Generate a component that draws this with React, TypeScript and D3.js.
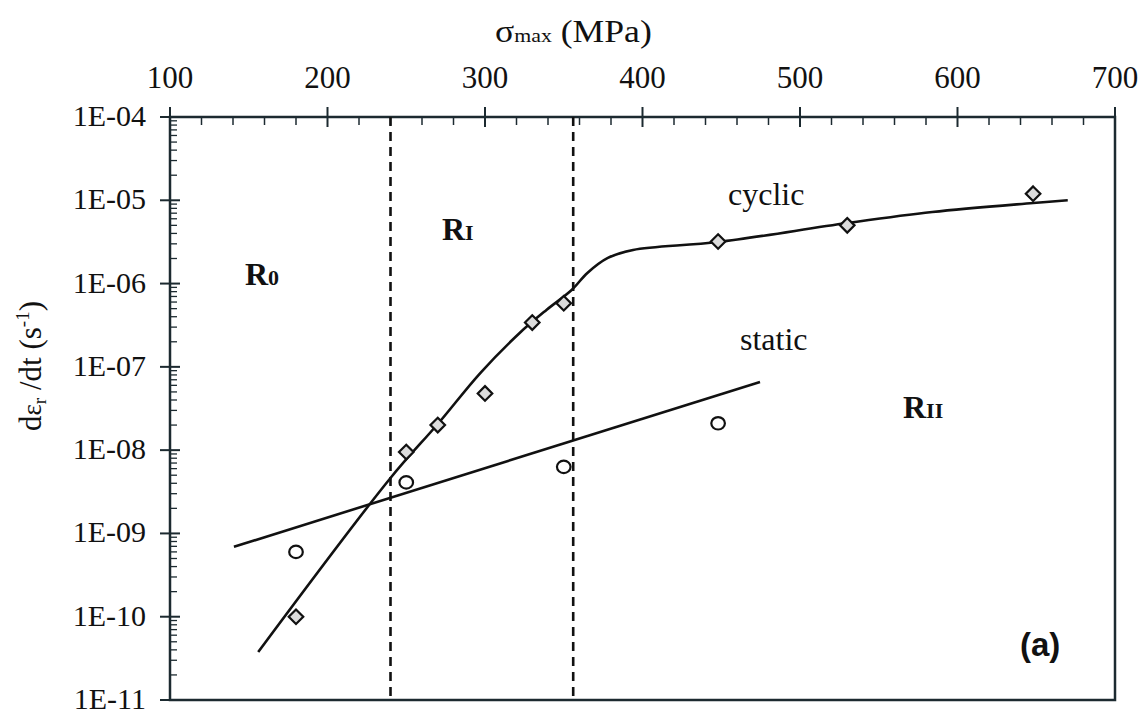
import React from "react";
import * as d3 from "d3";

// ---- data ----
const xMajorTicks = [100, 200, 300, 400, 500, 600, 700];
const yTickExponents = [-4, -5, -6, -7, -8, -9, -10, -11];
const yTickLabels = ["1E-04", "1E-05", "1E-06", "1E-07", "1E-08", "1E-09", "1E-10", "1E-11"];

const cyclicStress = [180, 250, 270, 300, 330, 350, 448, 530, 648];
const cyclicRate = [1.0e-10, 9.5e-9, 2.0e-8, 4.8e-8, 3.4e-7, 5.8e-7, 3.2e-6, 5.0e-6, 1.2e-5];

const staticStress = [180, 250, 350, 448];
const staticRate = [6.0e-10, 4.1e-9, 6.3e-9, 2.1e-8];

const cyclicFitStress = [156, 240, 270, 297, 322, 339, 355, 365, 378, 394, 448, 530, 584, 648, 670];
const cyclicFitRate = [3.77e-11, 4.63e-9, 2.06e-8, 8.43e-8, 2.55e-7, 4.82e-7, 8.37e-7, 1.34e-6, 2.03e-6, 2.53e-6, 3.15e-6, 5.33e-6, 7.23e-6, 9.27e-6, 1.0e-5];

const staticFitStress = [140.6, 474.6];
const staticFitRate = [6.9e-10, 6.6e-8];

const regimeBoundaries = [240, 356];

const W = 1144;
const H = 715;
const left = 170, right = 1115, top = 117, bottom = 700;
const ink = "#111";
const frame = "#1c2a30";
const serif = "'Liberation Serif', 'Times New Roman', serif";

export default function App() {
  const x = d3.scaleLinear().domain([100, 700]).range([left, right]);
  const y = d3.scaleLog().domain([1e-11, 1e-4]).range([bottom, top]);

  const xMinor = d3.range(100, 701, 20).filter((v) => v % 100 !== 0);
  const yMinor: number[] = [];
  for (let e = -11; e < -4; e++) {
    for (let k = 2; k <= 9; k++) yMinor.push(k * Math.pow(10, e));
  }

  const cyclicLine = d3
    .line<number>()
    .x((d) => x(d))
    .y((_, i) => y(cyclicFitRate[i]))
    .curve(d3.curveCatmullRom.alpha(0.5))(cyclicFitStress) as string;

  const staticLine = d3
    .line<number>()
    .x((d) => x(d))
    .y((_, i) => y(staticFitRate[i]))(staticFitStress) as string;

  const diamond = d3.symbol().type(d3.symbolDiamond2).size(135)() as string;

  return (
    <svg
      width={W}
      height={H}
      viewBox={`0 0 ${W} ${H}`}
      style={{ position: "absolute", left: 0, top: 0, background: "#fff" }}
    >
      <rect x={0} y={0} width={W} height={H} fill="#fff" />

      {/* frame */}
      <rect x={left} y={top} width={right - left} height={bottom - top} fill="none" stroke={frame} strokeWidth={2.5} />

      {/* x axis (top) ticks */}
      {xMajorTicks.map((t) => (
        <g key={"xt" + t}>
          <line x1={x(t)} x2={x(t)} y1={top - 10} y2={top + 10} stroke={frame} strokeWidth={2} />
          <text x={x(t)} y={88} textAnchor="middle" fontFamily={serif} fontSize={31} fill={ink}>
            {t}
          </text>
        </g>
      ))}
      {xMinor.map((t) => (
        <line key={"xm" + t} x1={x(t)} x2={x(t)} y1={top} y2={top + 8} stroke={frame} strokeWidth={1.5} />
      ))}

      {/* y axis ticks */}
      {yTickExponents.map((e, i) => (
        <g key={"yt" + e}>
          <line x1={left - 10} x2={left + 10} y1={y(Math.pow(10, e))} y2={y(Math.pow(10, e))} stroke={frame} strokeWidth={2} />
          <text
            x={146}
            y={y(Math.pow(10, e)) + 9}
            textAnchor="end"
            fontFamily={serif}
            fontSize={30}
            fill={ink}
          >
            {yTickLabels[i]}
          </text>
        </g>
      ))}
      {yMinor.map((v, i) => (
        <line key={"ym" + i} x1={left} x2={left + 7} y1={y(v)} y2={y(v)} stroke={frame} strokeWidth={1.3} />
      ))}

      {/* regime boundaries */}
      {regimeBoundaries.map((b) => (
        <line
          key={"b" + b}
          x1={x(b)}
          x2={x(b)}
          y1={top}
          y2={bottom}
          stroke={ink}
          strokeWidth={2.6}
          strokeDasharray="9,6"
        />
      ))}

      {/* fitted curves */}
      <path d={cyclicLine} fill="none" stroke={ink} strokeWidth={2.6} />
      <path d={staticLine} fill="none" stroke={ink} strokeWidth={2.6} />

      {/* points */}
      {cyclicStress.map((s, i) => (
        <path
          key={"c" + i}
          d={diamond}
          transform={`translate(${x(s)},${y(cyclicRate[i])})`}
          fill="#dcdcdc"
          stroke={ink}
          strokeWidth={2.2}
        />
      ))}
      {staticStress.map((s, i) => (
        <ellipse
          key={"s" + i}
          cx={x(s)}
          cy={y(staticRate[i])}
          rx={6.8}
          ry={6.2}
          fill="#fff"
          stroke={ink}
          strokeWidth={2.2}
        />
      ))}

      {/* axis titles */}
      <g transform="translate(495,42) scale(1.15,1)">
        <text x={0} y={0} fontFamily={serif} fontSize={31} fill={ink}>
          σ<tspan fontSize={19}>max</tspan>
          <tspan> (MPa)</tspan>
        </text>
      </g>
      <g transform="translate(41,366) rotate(-90)">
        <text x={0} y={0} textAnchor="middle" fontFamily={serif} fontSize={31} fill={ink}>
          d<tspan fontSize={27}>ε</tspan>
          <tspan fontSize={19} dy={5}>r</tspan>
          <tspan dy={-5}> /dt (s</tspan>
          <tspan fontSize={19} dy={-12}>-1</tspan>
          <tspan dy={12}>)</tspan>
        </text>
      </g>

      {/* annotations */}
      <text x={245} y={285} fontFamily={serif} fontSize={32} fontWeight="bold" fill={ink}>
        R<tspan fontSize={22}>0</tspan>
      </text>
      <text x={442} y={240} fontFamily={serif} fontSize={32} fontWeight="bold" fill={ink}>
        R<tspan fontSize={22}>I</tspan>
      </text>
      <text x={903} y={418} fontFamily={serif} fontSize={32} fontWeight="bold" fill={ink}>
        R<tspan fontSize={22}>II</tspan>
      </text>
      <text x={728} y={205} fontFamily={serif} fontSize={32} fill={ink}>
        cyclic
      </text>
      <text x={740} y={350} fontFamily={serif} fontSize={32} fill={ink}>
        static
      </text>
      <text
        x={1020}
        y={656}
        fontFamily="'Liberation Sans', Arial, sans-serif"
        fontSize={33}
        fontWeight="bold"
        fill={ink}
      >
        (a)
      </text>
    </svg>
  );
}
